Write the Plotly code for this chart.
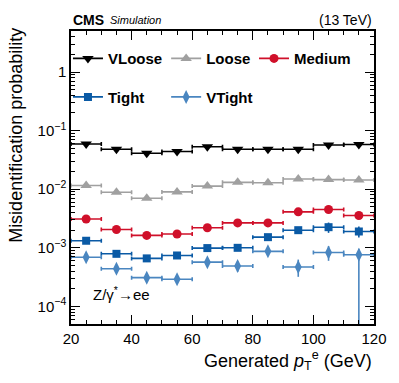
import plotly.graph_objects as go

# ---- data ------------------------------------------------------------------
pt_centers = [25, 35, 45, 55, 65, 75, 85, 95, 105, 115]
pt_halfwidth = [5, 5, 5, 5, 5, 5, 5, 5, 5, 5]

vloose = [0.059, 0.048, 0.041, 0.044, 0.053, 0.048, 0.048, 0.048, 0.057, 0.058]
vloose_err = [0.0006, 0.0005, 0.0005, 0.0005, 0.0006, 0.0006, 0.0006, 0.0007, 0.0008, 0.0009]

loose = [0.0116, 0.0089, 0.0070, 0.0090, 0.0113, 0.0131, 0.0129, 0.0149, 0.0146, 0.0144]
loose_err = [0.0002, 0.0002, 0.0002, 0.0002, 0.0003, 0.0003, 0.0003, 0.0004, 0.0004, 0.0005]

medium = [0.0031, 0.00205, 0.00163, 0.00172, 0.0022, 0.00266, 0.00266, 0.00411, 0.0045, 0.00356]
medium_err = [0.0001, 0.0001, 0.0001, 0.0001, 0.00012, 0.00015, 0.00018, 0.00025, 0.0003, 0.0004]

tight = [0.00132, 0.00079, 0.00066, 0.00074, 0.00099, 0.001, 0.00152, 0.002, 0.00225, 0.0019]
tight_err = [0.00007, 0.00006, 0.00005, 0.00006, 0.00008, 0.0001, 0.00018, 0.00025, 0.00045, 0.0004]

vtight = [0.00069, 0.00044, 0.00031, 0.00029, 0.00057, 0.00049, 0.00087, 0.00047, 0.00083, 0.00076]
vtight_err_up = [0.00008, 0.00006, 0.00004, 0.00004, 0.00008, 0.0001, 0.00016, 0.00016, 0.00024, 0.0002]
vtight_err_dn = [0.00008, 0.00006, 0.00004, 0.00004, 0.00008, 0.0001, 0.00014, 0.00015, 0.00023, 0.00074]

y_tickvals = [1e-4, 1e-3, 1e-2, 1e-1, 1]
y_ticktext = ["10<sup>−4</sup>", "10<sup>−3</sup>", "10<sup>−2</sup>", "10<sup>−1</sup>", "1"]
y_minor = [m * 10.0 ** e for e in range(-5, 1) for m in range(2, 10)]

FONT = "Liberation Sans, Arial, Helvetica, sans-serif"

# (name, values, err+, err-, colour, symbol, size, legend)
series = [
    ("VLoose", vloose, vloose_err, vloose_err, "black", "triangle-down", 10, "legend"),
    ("Loose", loose, loose_err, loose_err, "#a0a0a0", "triangle-up", 10, "legend2"),
    ("Medium", medium, medium_err, medium_err, "#d0102a", "circle", 9, "legend3"),
    ("Tight", tight, tight_err, tight_err, "#0a5aa5", "square", 8, "legend"),
    ("VTight", vtight, vtight_err_up, vtight_err_dn, "#4a86c0", "diamond-tall", 10, "legend2"),
]

fig = go.Figure()

for name, vals, eu, ed, col, sym, size, leg in series:
    fig.add_trace(go.Scatter(
        x=pt_centers, y=vals, mode="markers", showlegend=False,
        marker=dict(symbol=sym, size=size, color=col, line=dict(width=0)),
        error_x=dict(type="data", array=pt_halfwidth, color=col, thickness=1.6, width=2),
        error_y=dict(type="data", array=eu, arrayminus=ed, symmetric=False,
                     color=col, thickness=1.6, width=0),
    ))
    # legend entry (line + marker, ROOT style)
    fig.add_trace(go.Scatter(
        x=[None], y=[None], mode="lines+markers", name=name, legend=leg,
        legendgroup=name,
        marker=dict(symbol=sym, size=size, color=col, line=dict(width=0)),
        line=dict(color=col, width=1.6),
    ))

axis_common = dict(
    showline=True, linecolor="black", linewidth=1.5, mirror="allticks",
    ticks="inside", tickcolor="black", tickwidth=1.3, ticklen=9,
    showgrid=False, zeroline=False,
    tickfont=dict(family=FONT, size=15, color="black"),
)

fig.update_xaxes(
    range=[20, 120], dtick=20, tick0=20, ticklabeloverflow="allow",
    minor=dict(dtick=5, tick0=20, ticks="inside", ticklen=4.5, tickcolor="black", tickwidth=1.3),
    **axis_common,
)
fig.update_yaxes(
    type="log", range=[-4.3, 0.7],
    tickmode="array", tickvals=y_tickvals, ticktext=y_ticktext,
    minor=dict(tickmode="array", tickvals=y_minor, ticks="inside", ticklen=4.5,
               tickcolor="black", tickwidth=1.3),
    **axis_common,
)

leg_common = dict(
    orientation="v", yanchor="top", xanchor="left", y=0.962,
    bgcolor="rgba(0,0,0,0)", borderwidth=0, tracegroupgap=16,
    font=dict(family=FONT, size=15, color="black", weight="bold"),
    itemclick=False, itemdoubleclick=False,
)

fig.update_layout(
    width=399, height=383,
    margin=dict(l=71, r=20, t=31, b=59),
    paper_bgcolor="white", plot_bgcolor="white",
    font=dict(family=FONT, color="black"),
    legend=dict(x=-0.01, **leg_common),
    legend2=dict(x=0.314, **leg_common),
    legend3=dict(x=0.604, **leg_common),
    annotations=[
        dict(text="<b>CMS</b>", x=0, y=1.039, xref="paper", yref="paper",
             xanchor="left", yanchor="middle", showarrow=False,
             font=dict(family=FONT, size=14)),
        dict(text="<i>Simulation</i>", x=0.123, y=1.036, xref="paper", yref="paper",
             xanchor="left", yanchor="middle", showarrow=False,
             font=dict(family=FONT, size=11)),
        dict(text="(13 TeV)", x=1, y=1.039, xref="paper", yref="paper",
             xanchor="right", yanchor="middle", showarrow=False,
             font=dict(family=FONT, size=14)),
        dict(text="Z/γ<sup>*</sup>→ee", x=0.066, y=0.103, xref="paper", yref="paper",
             xanchor="left", yanchor="middle", showarrow=False,
             font=dict(family=FONT, size=15)),
        dict(text="Misidentification probability", x=-0.182, y=0.645,
             xref="paper", yref="paper", textangle=-90,
             xanchor="center", yanchor="middle", showarrow=False,
             font=dict(family=FONT, size=18)),
        dict(text="Generated <i>p</i><sub>T</sub><sup>e</sup> (GeV)", x=1, y=-0.125,
             xref="paper", yref="paper", xanchor="right", yanchor="middle",
             showarrow=False, font=dict(family=FONT, size=18)),
    ],
)

# the page body has a default 8px margin; drop it so the figure fills the window
fig.write_html("out.html", config={"displayModeBar": False},
               post_script="document.body.style.margin='0';")
